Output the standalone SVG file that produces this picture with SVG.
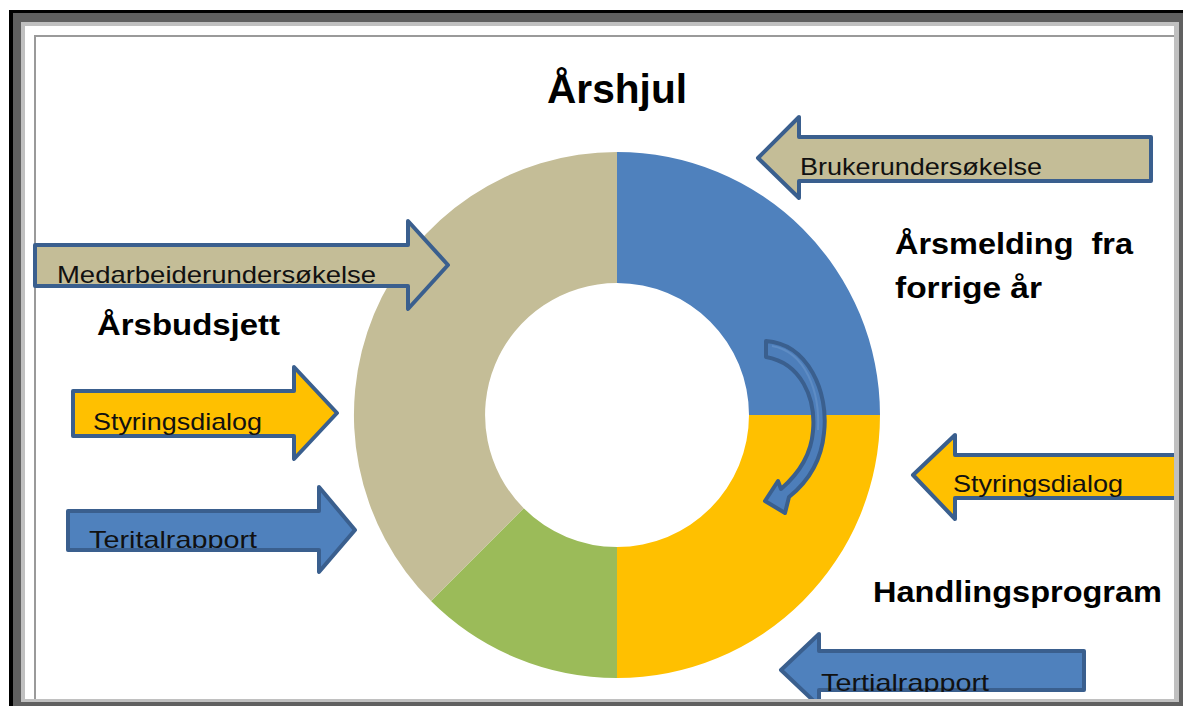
<svg xmlns="http://www.w3.org/2000/svg" width="1183" height="706" viewBox="0 0 1183 706">
<defs>
<style>
.arrow{stroke:#3A5F8E;stroke-width:4;stroke-linejoin:round}
.lbl{font-family:"Liberation Sans",Arial,sans-serif;font-size:24px;fill:#111}
.bold{font-family:"Liberation Sans",Arial,sans-serif;font-weight:bold;fill:#000}
</style>
<clipPath id="content"><rect x="25" y="26" width="1149" height="673"/></clipPath>
<clipPath id="c-terital"><rect x="60" y="500" width="300" height="48"/></clipPath>
<clipPath id="c-tertial"><rect x="800" y="640" width="300" height="52"/></clipPath>
</defs>
<rect x="0" y="0" width="1183" height="706" fill="#fff"/>
<g id="frame">
<rect x="9" y="10" width="1174" height="696" fill="#000"/>
<rect x="13" y="13" width="1170" height="693" fill="#606060"/>
<rect x="21" y="22" width="1158" height="680" fill="#c0c0c0"/>
<rect x="25" y="26" width="1149" height="673" fill="#fff"/>
<path d="M35 699 V36 H1174" fill="none" stroke="#9a9a9a" stroke-width="2"/>
</g>
<g clip-path="url(#content)">
<g id="title"><text class="bold" x="547" y="103" font-size="40" textLength="140" lengthAdjust="spacingAndGlyphs">Årshjul</text></g>
<g id="wheel">
<path id="seg-blue" d="M617,152 A263,263 0 0 1 880,415 L749,415 A132,132 0 0 0 617,283 Z" fill="#4F81BD"/>
<path id="seg-yellow" d="M880,415 A263,263 0 0 1 617,678 L617,547 A132,132 0 0 0 749,415 Z" fill="#FFC000"/>
<path id="seg-green" d="M617,678 A263,263 0 0 1 431,601 L523.7,508.3 A132,132 0 0 0 617,547 Z" fill="#9BBB59"/>
<path id="seg-tan" d="M431,601 A263,263 0 0 1 617,152 L617,283 A132,132 0 0 0 523.7,508.3 Z" fill="#C4BD97"/>
</g>
<g id="connectors">
<path d="M766,341 C808,344 829,392 824,433 C821,465 804,485 789,497 L785,513 L765,501 L778,481 L781,489 C796,476 811,457 813,431 C816,398 801,363 766,357 Z" fill="#4D7EBA" stroke="#3A5F8E" stroke-width="4" stroke-linejoin="round"/>
<path d="M772,346 C806,352 820,392 818,430" fill="none" stroke="#5E8CC4" stroke-width="2"/>
</g>
<g id="n-bruker">
<polygon class="arrow" fill="#C4BD97" points="758,158 799,117 799,137 1151,137 1151,181 799,181 799,198"/>
<text class="lbl" x="800" y="175" textLength="242" lengthAdjust="spacingAndGlyphs">Brukerundersøkelse</text>
</g>
<g id="n-medarbeider">
<polygon class="arrow" fill="#C4BD97" points="35,245 408,245 408,221 448,265 408,309 408,286 35,286"/>
<text class="lbl" x="57" y="283" textLength="319" lengthAdjust="spacingAndGlyphs">Medarbeiderundersøkelse</text>
</g>
<g id="n-styring-left">
<polygon class="arrow" fill="#FFC000" points="73,391 294,391 294,367 337,413 294,459 294,436 73,436"/>
<text class="lbl" x="93" y="430" textLength="169" lengthAdjust="spacingAndGlyphs">Styringsdialog</text>
</g>
<g id="n-terital">
<polygon class="arrow" fill="#4F81BD" points="68,511 319,511 319,487 355,530 319,572 319,550 68,550"/>
<text class="lbl" x="89" y="548" textLength="168" lengthAdjust="spacingAndGlyphs" clip-path="url(#c-terital)">Teritalrapport</text>
</g>
<g id="n-styring-right">
<polygon class="arrow" fill="#FFC000" points="913,475 955,435 955,455 1185,455 1185,498 955,498 955,519"/>
<text class="lbl" x="953" y="492" textLength="170" lengthAdjust="spacingAndGlyphs">Styringsdialog</text>
</g>
<g id="n-tertial">
<polygon class="arrow" fill="#4F81BD" points="781,670 819,634 819,651 1084,651 1084,690 819,690 819,706"/>
<text class="lbl" x="821" y="691" textLength="168" lengthAdjust="spacingAndGlyphs" clip-path="url(#c-tertial)">Tertialrapport</text>
</g>
<g id="n-arsbudsjett"><text class="bold" x="97" y="335" font-size="29" textLength="183" lengthAdjust="spacingAndGlyphs">Årsbudsjett</text></g>
<g id="n-arsmelding">
<text class="bold" x="895" y="254" font-size="30" textLength="238" lengthAdjust="spacingAndGlyphs" xml:space="preserve">Årsmelding  fra</text>
<text class="bold" x="895" y="298" font-size="30" textLength="147" lengthAdjust="spacingAndGlyphs">forrige år</text>
</g>
<g id="n-handling"><text class="bold" x="873" y="602" font-size="29" textLength="289" lengthAdjust="spacingAndGlyphs">Handlingsprogram</text></g>
</g>
</svg>
